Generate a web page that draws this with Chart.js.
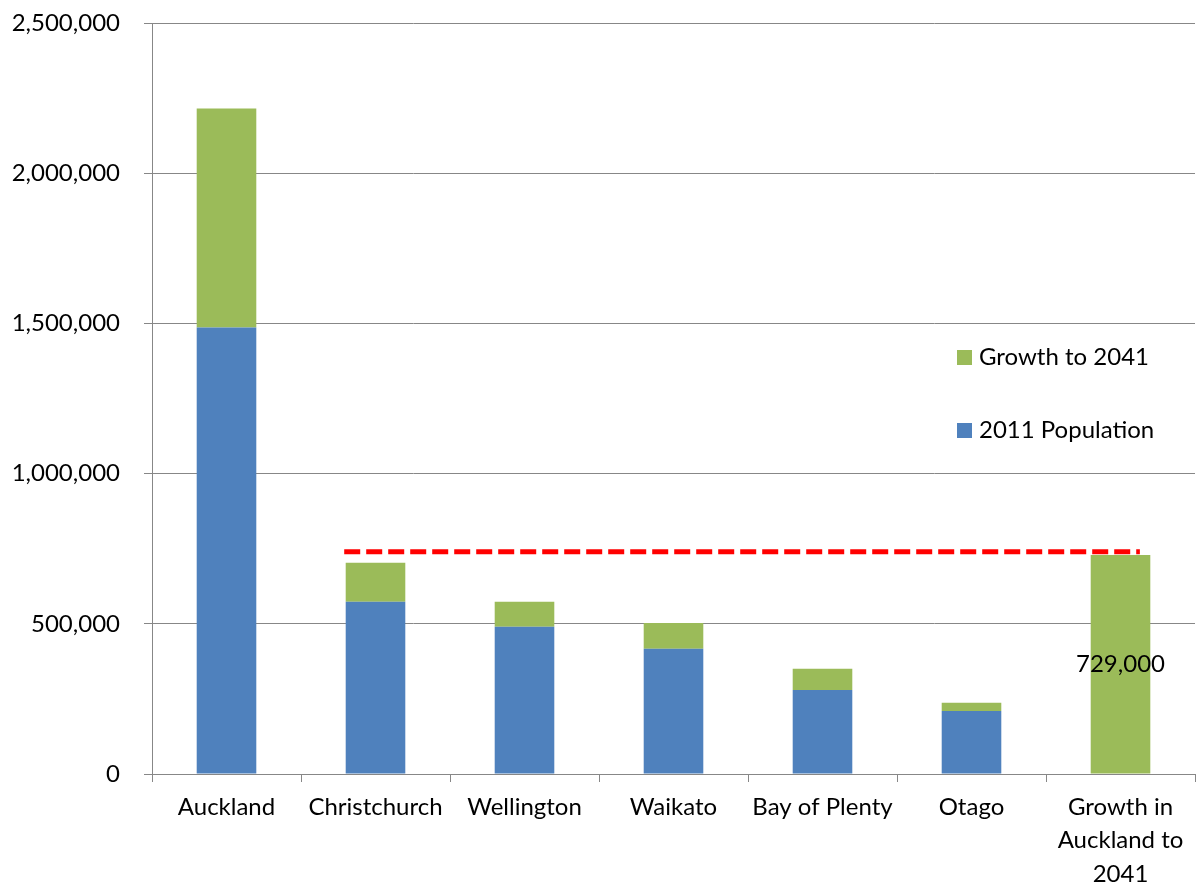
<!DOCTYPE html>
<html>
<head>
<meta charset="utf-8">
<script src="https://cdn.jsdelivr.net/npm/chart.js@4"></script>
<style>
  html, body { margin: 0; padding: 0; background: #fff; }
  #wrap { width: 1201px; height: 888px; }
</style>
</head>
<body>
<div id="wrap"><canvas id="popChart"></canvas></div>
<script>
const regions = ["Auckland", "Christchurch", "Wellington", "Waikato", "Bay of Plenty", "Otago", ["Growth in", "Auckland to", "2041"]];
const population2011 = [1486000, 573000, 490000, 417000, 280000, 210000, null];
const growthTo2041 = [729000, 130000, 83000, 86000, 70000, 27000, 729000];
const yTicks = [0, 500000, 1000000, 1500000, 2000000, 2500000];
// red reference line: from the Christchurch bar to the Auckland growth bar, in category units
const refLineX = [0.79, 6.13];
const refLineY = [740000, 740000];
const growthLabel = "729,000";

(() => {
    const fontFamily = "Lato, 'Open Sans', sans-serif";
    const gridColor = "#878787";

    const legendPlugin = {
        id: "sideLegend",
        afterDraw(chart) {
            const ctx = chart.ctx;
            const items = [
                { text: "Growth to 2041", color: "#9BBB59", y: 357 },
                { text: "2011 Population", color: "#4F81BD", y: 430 }
            ];
            ctx.save();
            ctx.font = "24px " + fontFamily;
            ctx.textBaseline = "middle";
            items.forEach((item) => {
                ctx.fillStyle = item.color;
                ctx.fillRect(957, item.y - 7, 15, 15);
                ctx.fillStyle = "#000";
                ctx.fillText(item.text, 979, item.y);
            });
            ctx.restore();
        }
    };

    const valueLabelPlugin = {
        id: "valueLabel",
        afterDatasetsDraw(chart) {
            const bar = chart.getDatasetMeta(1).data[6];
            const ctx = chart.ctx;
            ctx.save();
            ctx.font = "24px " + fontFamily;
            ctx.textAlign = "center";
            ctx.textBaseline = "middle";
            ctx.fillStyle = "#000";
            ctx.fillText(growthLabel, bar.x, (bar.y + bar.base) / 2);
            ctx.restore();
        }
    };

    const barStyle = {
        categoryPercentage: 0.4,
        barPercentage: 1,
        grouped: false
    };

    new Chart(document.getElementById("popChart"), {
        type: "bar",
        data: {
            labels: regions,
            datasets: [
                Object.assign({
                    label: "2011 Population",
                    data: population2011,
                    backgroundColor: "#4F81BD",
                    order: 2
                }, barStyle),
                Object.assign({
                    label: "Growth to 2041",
                    data: growthTo2041,
                    backgroundColor: "#9BBB59",
                    order: 2
                }, barStyle),
                {
                    type: "line",
                    label: "Reference",
                    data: refLineX.map((x, i) => ({ x, y: refLineY[i] })),
                    xAxisID: "x2",
                    stack: "ref",
                    borderColor: "#FF0000",
                    borderWidth: 5,
                    borderDash: [16, 6],
                    pointRadius: 0,
                    fill: false,
                    order: 1
                }
            ]
        },
        options: {
            responsive: true,
            maintainAspectRatio: false,
            animation: false,
            layout: { padding: { top: 23, right: 6, left: 0, bottom: 0 } },
            plugins: {
                legend: { display: false },
                tooltip: { enabled: false }
            },
            scales: {
                x: {
                    stacked: true,
                    grid: { drawOnChartArea: false, drawTicks: true, tickLength: 8, color: gridColor },
                    border: { color: gridColor, width: 1 },
                    ticks: {
                        color: "#000",
                        font: { family: fontFamily, size: 24, lineHeight: 1.38 },
                        maxRotation: 0,
                        autoSkip: false,
                        padding: 9
                    },
                    afterFit: (scale) => { scale.height = 114; }
                },
                x2: {
                    type: "linear",
                    display: false,
                    offset: false,
                    min: -0.5,
                    max: 6.5
                },
                y: {
                    stacked: true,
                    min: 0,
                    max: 2500000,
                    afterBuildTicks: (scale) => { scale.ticks = yTicks.map((v) => ({ value: v })); },
                    grid: { color: gridColor, tickLength: 8 },
                    border: { color: gridColor, width: 1 },
                    ticks: {
                        color: "#000",
                        font: { family: fontFamily, size: 24 },
                        padding: 24,
                        callback: (v) => v.toLocaleString("en-US")
                    },
                    afterFit: (scale) => {
                        scale.width = 152;
                        scale.paddingTop = 0;
                        scale.paddingBottom = 0;
                    }
                }
            }
        },
        plugins: [legendPlugin, valueLabelPlugin]
    });
})();
</script>
</body>
</html>
